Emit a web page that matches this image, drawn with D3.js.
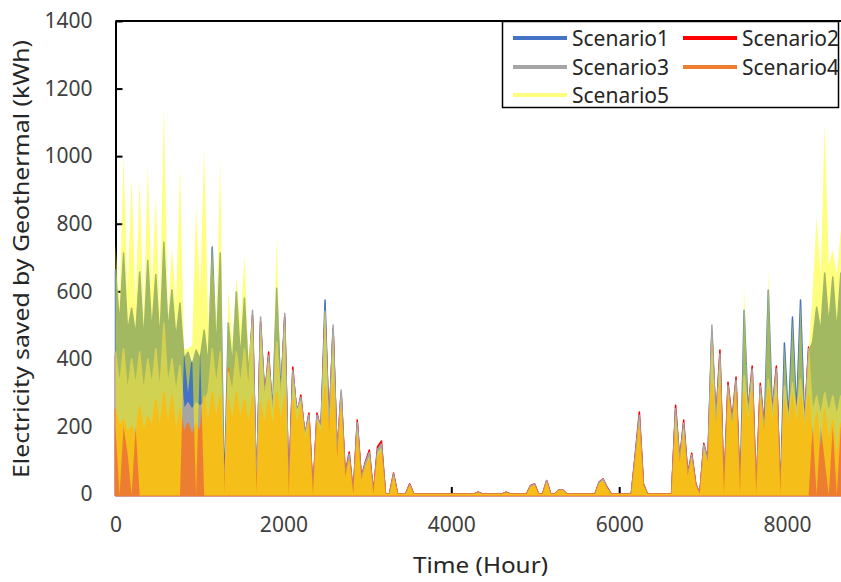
<!DOCTYPE html>
<html>
<head>
<meta charset="utf-8">
<script src="https://cdn.jsdelivr.net/npm/d3@7"></script>
<style>
  body { margin: 0; background: #fff; }
  svg text { font-family: "Noto Sans", "DejaVu Sans", sans-serif; }
</style>
</head>
<body>
<div id="canvas"></div>
<script>
const hours = d3.range(0, 8737, 48);
const names = ["Scenario1", "Scenario2", "Scenario3", "Scenario4", "Scenario5"];
const yTicks = [0, 200, 400, 600, 800, 1000, 1200, 1400];
const xTicks = [0, 2000, 4000, 6000, 8000];

const scenario1 = [
  663,500,713,480,550,470,657,450,692,480, 650,450,745,480,604,460,565,400,420,380,
  426,400,485,380,731,420,713,0,506,380, 598,400,580,350,520,0,500,300,390,250,
  609,300,515,0,355,250,278,180,225,0, 225,200,574,
  190,485,110,295,55,112,0,205,46,86, 117,0,125,141,0,0,56,0,0,0, 27,
  0,0,0,0,0,0,0,0,0,0, 0,0,0,0,0,0,5,0,0,0, 0,0,0,5,0,0,0,0,0,24,
  28,0,0,38,0,0,11,11,0,0, 0,0,0,0,0,0,33,43,19,0, 0,
  0,0,0,0,110,225,27,0,0,0, 0,0,0,0,245,95,205,55,112,27,
  0,140,95,480,210,405,0,315,210,330, 0,544,240,360,0,310,190,604,240,360,
  0,447,220,524,240,574,210,420,450,553, 480,654,500,642,480,654,500,640
];
const scenario2 = [
  410,310,420,290,390,310,410,290,390,310, 420,290,490,310,390,290,370,240,260,240,
  260,250,260,290,420,310,410,0,373,290, 410,310,420,290,530,0,510,280,420,230,
  440,280,525,0,376,230,293,170,240,0, 240,190,530,
  200,490,120,300,60,124,0,219,50,95, 130,0,139,157,0,0,62,0,0,0, 30,
  0,0,0,0,0,0,0,0,0,0, 0,0,0,0,0,0,5,0,0,0, 0,0,0,5,0,0,0,0,0,25,
  30,0,0,40,0,0,12,12,0,0, 0,0,0,0,0,0,35,45,20,0, 0,
  0,0,0,0,120,243,30,0,0,0, 0,0,0,0,263,100,219,60,121,30,
  0,150,100,470,220,426,0,331,220,346, 0,340,250,379,0,328,200,330,250,379,
  0,310,230,320,250,330,220,435,230,280, 220,290,230,280,220,280,230,270
];
const scenario3 = [
  420,320,430,300,400,320,420,300,400,320, 430,300,506,320,400,300,380,250,270,250,
  270,260,270,300,430,320,420,0,360,300, 420,320,430,300,544,0,524,290,410,240,
  450,290,535,0,366,240,286,175,234,0, 234,195,540,
  195,500,115,308,57,118,0,212,48,90, 123,0,131,148,0,0,59,0,0,0, 28,
  0,0,0,0,0,0,0,0,0,0, 0,0,0,0,0,0,5,0,0,0, 0,0,0,5,0,0,0,0,0,24,
  29,0,0,39,0,0,12,12,0,0, 0,0,0,0,0,0,34,44,19,0, 0,
  0,0,0,0,115,232,28,0,0,0, 0,0,0,0,252,98,210,58,116,28,
  0,145,98,500,215,415,0,322,215,337, 0,350,245,370,0,320,195,340,245,370,
  0,320,225,330,245,340,215,430,240,290, 230,300,240,290,230,290,240,280
];
const scenario4 = [
  250,200,220,180,200,170,260,180,230,200, 280,190,300,200,290,180,250,180,210,170,
  210,180,290,200,300,220,290,0,280,210, 300,220,280,200,290,0,270,200,280,190,
  300,210,290,0,280,200,260,150,210,0, 210,170,317,
  180,330,100,250,50,100,0,170,40,75, 100,0,108,122,0,0,48,0,0,0, 23,
  0,0,0,0,0,0,0,0,0,0, 0,0,0,0,0,0,4,0,0,0, 0,0,0,4,0,0,0,0,0,20,
  24,0,0,32,0,0,10,10,0,0, 0,0,0,0,0,0,28,36,16,0, 0,
  0,0,0,0,95,195,24,0,0,0, 0,0,0,0,190,80,170,50,100,24,
  0,120,85,330,180,320,0,290,180,300, 0,300,200,300,0,280,170,310,200,290,
  0,280,190,290,200,290,180,290,150,240, 120,250,150,220,100,210,130,200
];
const scenario5 = [
  740,560,997,600,935,560,929,520,973,600, 879,540,1148,520,731,560,967,430,430,440,
  849,600,1024,500,740,500,997,0,604,450, 639,500,707,400,520,0,500,300,400,250,
  760,300,515,0,355,250,278,180,225,0, 225,200,560,
  185,475,105,290,52,108,0,200,44,84, 114,0,122,138,0,0,55,0,0,0, 26,
  0,0,0,0,0,0,0,0,0,0, 0,0,0,0,0,0,4,0,0,0, 0,0,0,4,0,0,0,0,0,22,
  27,0,0,36,0,0,11,11,0,0, 0,0,0,0,0,0,32,41,18,0, 0,
  0,0,0,0,108,220,26,0,0,0, 0,0,0,0,240,95,200,55,110,26,
  0,138,95,470,210,400,0,312,210,325, 0,612,240,355,0,305,190,663,240,355,
  0,440,220,515,240,565,210,415,600,820, 650,1097,680,722,650,781,660,760
];
// lowest level Scenario5 drops to around each sample
const scenario5Low = [
  200,0,200,120,0,200,0,0,0,0, 0,0,0,0,0,0,0,420,300,420,
  0,420,0,0,0,0,0,0,0,0, 0,0,0,0,0,0,0,0,0,0,
  0,0,0,0,0,0,0,0,0,0, 0,0,0,
  0,0,0,0,0,0,0,0,0,0, 0,0,0,0,0,0,0,0,0,0, 0,
  0,0,0,0,0,0,0,0,0,0, 0,0,0,0,0,0,0,0,0,0, 0,0,0,0,0,0,0,0,0,0,
  0,0,0,0,0,0,0,0,0,0, 0,0,0,0,0,0,0,0,0,0, 0,
  0,0,0,0,0,0,0,0,0,0, 0,0,0,0,0,0,0,0,0,0,
  0,0,0,0,0,0,0,0,0,0, 0,0,0,0,0,0,0,0,0,0,
  0,0,0,0,0,0,0,0,200,0, 200,100,0,200,0,200,50,200
];

const series = [scenario1, scenario2, scenario3, scenario4, scenario5];
const lows = [null, null, null, null, scenario5Low];
const colors = ["#4472C4", "#FF0000", "#A5A5A5", "#ED7D31", "#FFFF00"];
const opacity = [1, 1, 1, 1, 0.5];

const W = 841, H = 582;
const margin = { top: 21, left: 115.5, bottom: 494 };

const svg = d3.select("#canvas")
  .append("svg")
  .attr("width", W)
  .attr("height", H)
  .style("display", "block");

svg.append("rect").attr("width", W).attr("height", H).attr("fill", "#fff");

const x = d3.scaleLinear().domain([0, 8760]).range([margin.left, 850.9]);
const y = d3.scaleLinear().domain([0, 1400]).range([margin.bottom, margin.top]);

// top border of the plot area
svg.append("line")
  .attr("x1", margin.left).attr("x2", W)
  .attr("y1", margin.top).attr("y2", margin.top)
  .attr("stroke", "#000").attr("stroke-width", 2);

// Y axis
const yAxis = svg.append("g")
  .attr("transform", "translate(" + margin.left + ",0)")
  .call(d3.axisLeft(y).tickValues(yTicks).tickFormat(d3.format("d"))
    .tickSize(-7).tickSizeOuter(0).tickPadding(23));

// X axis
const xAxis = svg.append("g")
  .attr("transform", "translate(0," + margin.bottom + ")")
  .call(d3.axisBottom(x).tickValues(xTicks).tickFormat(d3.format("d"))
    .tickSize(-7).tickSizeOuter(0).tickPadding(23));

[yAxis, xAxis].forEach(function (g) {
  g.select(".domain").attr("stroke", "#000").attr("stroke-width", 2);
  g.selectAll(".tick line").attr("stroke", "#000").attr("stroke-width", 2);
  g.selectAll(".tick text")
    .attr("fill", "#404040")
    .style("font-size", "21px");
});

// the hourly lines are so dense that they read as filled bands
series.forEach(function (s, k) {
  const low = lows[k];
  const area = d3.area()
    .x(function (d, i) { return x(hours[i]); })
    .y0(function (d, i) { return low && low[i] > 0 ? y(low[i]) : y(0) + 1.5; })
    .y1(function (d) { return y(d); });

  svg.append("path")
    .datum(s)
    .attr("d", area)
    .attr("fill", colors[k])
    .attr("fill-opacity", opacity[k])
    .attr("stroke", k < 4 ? colors[k] : "none")
    .attr("stroke-width", 1.5)
    .attr("stroke-linejoin", "round");
});

// axis titles
svg.append("text")
  .attr("transform", "translate(29,259) rotate(-90)")
  .attr("text-anchor", "middle")
  .attr("fill", "#262626")
  .attr("textLength", 438)
  .attr("lengthAdjust", "spacingAndGlyphs")
  .style("font-size", "21px")
  .text("Electricity saved by Geothermal (kWh)");

svg.append("text")
  .attr("x", 480.5)
  .attr("y", 573)
  .attr("text-anchor", "middle")
  .attr("fill", "#262626")
  .attr("textLength", 135)
  .attr("lengthAdjust", "spacingAndGlyphs")
  .style("font-size", "21px")
  .text("Time (Hour)");

// legend
const legend = svg.append("g");
legend.append("rect")
  .attr("x", 502.5).attr("y", 21.5)
  .attr("width", 336).attr("height", 86)
  .attr("fill", "#fff")
  .attr("stroke", "#000")
  .attr("stroke-width", 1.5);

const legendPos = [
  { x: 513, y: 38 }, { x: 683, y: 38 },
  { x: 513, y: 67 }, { x: 683, y: 67 },
  { x: 513, y: 95 }
];

names.forEach(function (n, k) {
  const p = legendPos[k];
  legend.append("line")
    .attr("x1", p.x).attr("x2", p.x + 54)
    .attr("y1", p.y).attr("y2", p.y)
    .attr("stroke", colors[k])
    .attr("stroke-opacity", opacity[k])
    .attr("stroke-width", 4);
  legend.append("text")
    .attr("x", p.x + 59)
    .attr("y", p.y + 8)
    .attr("fill", "#262626")
    .style("font-size", "21px")
    .text(n);
});
</script>
</body>
</html>
